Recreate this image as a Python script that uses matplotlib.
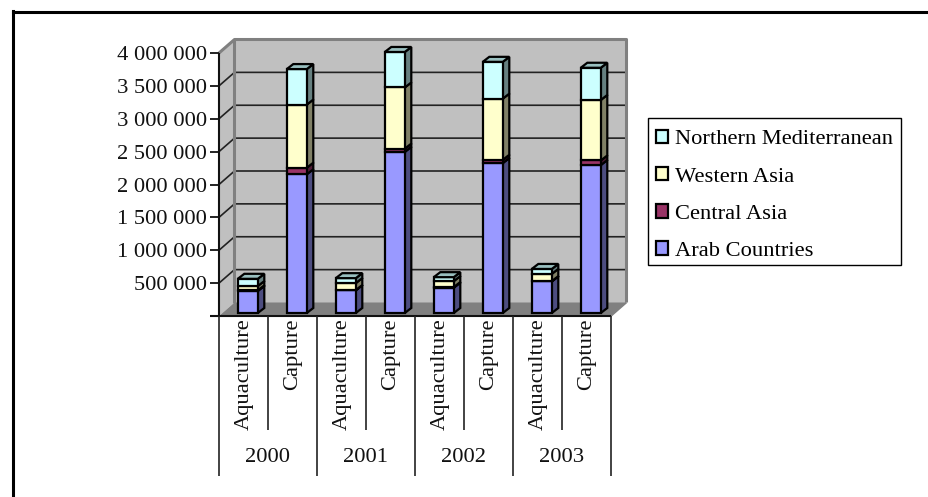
import matplotlib
matplotlib.use("Agg")
import matplotlib.pyplot as plt
from matplotlib.patches import Patch, Rectangle
from matplotlib.lines import Line2D

years = ["2000", "2001", "2002", "2003"]
methods = ["Aquaculture", "Capture"] * 4
arab = [335000, 2110000, 345000, 2450000, 385000, 2280000, 480000, 2250000]
central = [10000, 100000, 5000, 50000, 10000, 50000, 5000, 70000]
western = [65000, 960000, 105000, 930000, 90000, 930000, 110000, 920000]
northern = [110000, 540000, 75000, 540000, 60000, 560000, 75000, 490000]
series = [
    ("Arab Countries", arab, "#9999FF", "#4D4D80", "#7373BF"),
    ("Central Asia", central, "#993366", "#4D1A33", "#73264D"),
    ("Western Asia", western, "#FFFFCC", "#808066", "#BFBF99"),
    ("Northern Mediterranean", northern, "#CCFFFF", "#668080", "#99BFBF"),
]
y_ticks = [0, 500000, 1000000, 1500000, 2000000, 2500000, 3000000, 3500000, 4000000]

W, H = 929, 497
FONT = "Liberation Serif"
FS = 16.2

fig = plt.figure(figsize=(W / 100, H / 100), dpi=100, facecolor="white")
ax = fig.add_axes([219 / W, 1 - 316 / H, 392 / W, 263 / H])
ax.set_xlim(0, 8)
ax.set_ylim(0, 4000000)
ax.axis("off")

px_x = 8 / 392
px_y = 4000000 / 263
wall_dx, wall_dy = 15.5 * px_x, 13.5 * px_y


def poly(xs, ys, color, edge="none", lw=0, z=1):
    ax.fill(xs, ys, facecolor=color, edgecolor=edge, linewidth=lw,
            zorder=z, clip_on=False, joinstyle="miter")


def line(xs, ys, color="black", lw=1.4, z=2):
    ax.add_line(Line2D(xs, ys, color=color, lw=lw, zorder=z, clip_on=False,
                       solid_capstyle="butt"))


# Walls and floor of the 3D box
ymax = 4000000
poly([0, wall_dx, wall_dx, 0], [0, wall_dy, ymax + wall_dy, ymax], "#C0C0C0")
poly([wall_dx, 8 + wall_dx, 8 + wall_dx, wall_dx],
     [wall_dy, wall_dy, ymax + wall_dy, ymax + wall_dy], "#C0C0C0")
poly([0, 8, 8 + wall_dx, wall_dx], [0, 0, wall_dy, wall_dy], "#808080")

# Gridlines across both walls
for v in y_ticks[1:-1]:
    line([0, wall_dx, 8 + wall_dx], [v, v + wall_dy, v + wall_dy], "#222222", 1.2)

# Grey outline of the box
line([0, wall_dx, 8 + wall_dx, 8 + wall_dx],
     [ymax, ymax + wall_dy, ymax + wall_dy, wall_dy], "#808080", 2.2, z=3)
line([wall_dx, wall_dx], [wall_dy, ymax + wall_dy], "#808080", 2.2, z=3)
line([8 + wall_dx, 8], [wall_dy, 0], "#808080", 1.2, z=3)

# Value axis and ticks
line([0, 0], [0, ymax], "#111111", 1.5, z=4)
for v in y_ticks:
    line([-9 * px_x, 0], [v, v], "#111111", 1.3, z=4)
    if v:
        label = f"{v:,}".replace(",", " ")
        ax.annotate(label, (0, v), xytext=(-12 * 0.72, 0), textcoords="offset points",
                    ha="right", va="center_baseline", family=FONT, fontsize=FS, color="#111111")
line([-9 * px_x, 8], [0, 0], "#111111", 1.5, z=4)

# Stacked 3D columns
bar_w = 20 * px_x
base_dx, base_dy = 4.3 * px_x, 3 * px_y
depth_x, depth_y = 6.5 * px_x, 5 * px_y
edge_lw = 1.6
for i in range(8):
    x0 = i + 0.5 + base_dx - bar_w / 2
    x1 = x0 + bar_w
    bottom = base_dy
    z = 10 + i * 10
    for name, values, face, side, top in series:
        t = bottom + values[i]
        ax.bar(x0, values[i], width=bar_w, bottom=bottom, align="edge", color=face,
               edgecolor="black", linewidth=edge_lw, zorder=z + 1, clip_on=False)
        poly([x1, x1 + depth_x, x1 + depth_x, x1],
             [bottom, bottom + depth_y, t + depth_y, t], side, "black", edge_lw, z)
        bottom = t
        z += 2
    poly([x0, x1, x1 + depth_x, x0 + depth_x],
         [bottom, bottom, bottom + depth_y, bottom + depth_y], series[-1][4], "black", edge_lw, z)

# Two-level category axis below the plot
short_drop = 114
long_drop = 160
for i in range(9):
    drop = long_drop if i % 2 == 0 else short_drop
    line([i, i], [0, -drop * px_y], "#222222", 1.2, z=4)
for i, m in enumerate(methods):
    ax.annotate(m, (i + 0.5, 0), xytext=(0.5 * 0.72, -2.5 * 0.72), textcoords="offset points",
                rotation=90, ha="center", va="top", family=FONT, fontsize=FS, color="#111111")
for j, yr in enumerate(years):
    ax.annotate(yr, (2 * j + 1, 0), xytext=(0, -142 * 0.72), textcoords="offset points",
                ha="center", va="center", family=FONT, fontsize=FS, color="#111111")

# Legend box and entries
fig.add_artist(Rectangle((648 / W, 1 - 265 / H), 253 / W, 147 / H, facecolor="white",
                         edgecolor="black", linewidth=1.0, transform=fig.transFigure))
handles = [Patch(facecolor=c, edgecolor="black", linewidth=1.6, label=n)
           for n, _, c, _, _ in reversed(series)]
leg = fig.legend(handles=handles, loc="upper left",
                 bbox_to_anchor=(648 / W, 1 - 121.5 / H), bbox_transform=fig.transFigure,
                 prop={"family": FONT, "size": FS}, frameon=False, borderaxespad=0,
                 handlelength=0.55, handleheight=0.55, handletextpad=0.3,
                 labelspacing=0.775, borderpad=0.36)

# Chart frame: only the top and left rules fall inside the canvas
fig.add_artist(Line2D([13 / W, 1], [1 - 12 / H, 1 - 12 / H], color="black", lw=2.2,
                      transform=fig.transFigure))
fig.add_artist(Line2D([13 / W, 13 / W], [0, 1 - 11 / H], color="black", lw=2.2,
                      transform=fig.transFigure))

fig.savefig("out.png", dpi=100)
